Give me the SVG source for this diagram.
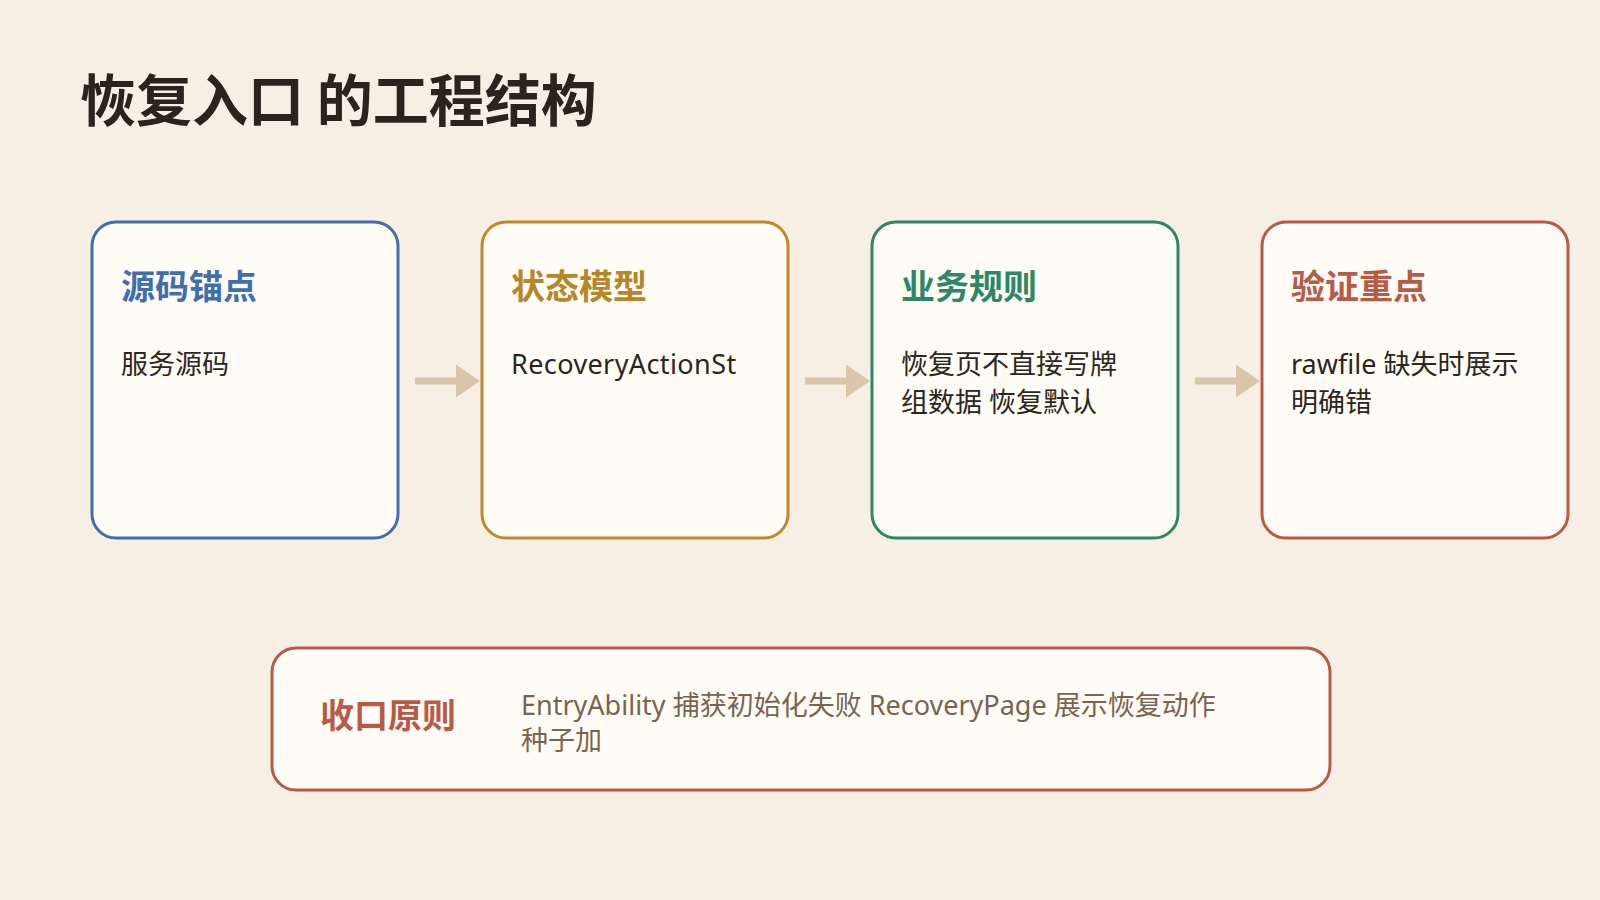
<svg xmlns="http://www.w3.org/2000/svg" width="1600" height="900" viewBox="0 0 1600 900">
  <style>
    .title { font-family: "Noto Sans CJK SC", "Noto Sans", sans-serif; font-size: 56px; font-weight: 700; fill: #2a241e; }
    .card { fill: #fffcf5; stroke-width: 3; }
    .head { font-family: "Noto Sans CJK SC", "Noto Sans", sans-serif; font-size: 34px; font-weight: 700; }
    .body { font-family: "Noto Sans", "Noto Sans CJK SC", sans-serif; font-size: 27px; fill: #2b2620; }
    .note { font-family: "Noto Sans", "Noto Sans CJK SC", sans-serif; font-size: 27px; fill: #7a6352; }
    .arrow { stroke: #d9c6aa; stroke-width: 7; fill: none; }
  </style>
  <defs>
    <marker id="ah" markerUnits="userSpaceOnUse" markerWidth="24" markerHeight="33" refX="14" refY="16.5" orient="auto" viewBox="0 0 24 33">
      <path d="M0,0 L24,16.5 L0,33 z" fill="#d9c6aa"/>
    </marker>
  </defs>
  <rect width="1600" height="900" fill="#f7efe3"/>
  <text class="title" x="80" y="121">恢复入口 的工程结构</text>

  <g id="connectors">
    <line class="arrow" x1="415" y1="381" x2="470" y2="381" marker-end="url(#ah)"/>
    <line class="arrow" x1="805" y1="381" x2="860" y2="381" marker-end="url(#ah)"/>
    <line class="arrow" x1="1195" y1="381" x2="1250" y2="381" marker-end="url(#ah)"/>
  </g>

  <g id="node-source">
    <rect class="card" x="92" y="222" width="306" height="316" rx="24" stroke="#3f6fad"/>
    <text class="head" x="121" y="299" fill="#3f6fad">源码锚点</text>
    <text class="body" x="121" y="374">服务源码</text>
  </g>
  <g id="node-state">
    <rect class="card" x="482" y="222" width="306" height="316" rx="24" stroke="#c08a2a"/>
    <text class="head" x="511" y="299" fill="#b8862a">状态模型</text>
    <text class="body" x="511" y="374" letter-spacing="0.4">RecoveryActionSt</text>
  </g>
  <g id="node-rules">
    <rect class="card" x="872" y="222" width="306" height="316" rx="24" stroke="#2e8767"/>
    <text class="head" x="901" y="299" fill="#2e8767">业务规则</text>
    <text class="body" x="901" y="374">恢复页不直接写牌</text>
    <text class="body" x="901" y="412">组数据 恢复默认</text>
  </g>
  <g id="node-verify">
    <rect class="card" x="1262" y="222" width="306" height="316" rx="24" stroke="#b95a48"/>
    <text class="head" x="1291" y="299" fill="#b95a48">验证重点</text>
    <text class="body" x="1291" y="374">rawfile 缺失时展示</text>
    <text class="body" x="1291" y="412">明确错</text>
  </g>

  <g id="node-principle">
    <rect class="card" x="272" y="648" width="1058" height="142" rx="24" stroke="#b95a48"/>
    <text class="head" x="320" y="728" fill="#b95a48">收口原则</text>
    <text class="note" x="521" y="715">EntryAbility 捕获初始化失败 RecoveryPage 展示恢复动作</text>
    <text class="note" x="521" y="750">种子加</text>
  </g>
</svg>
